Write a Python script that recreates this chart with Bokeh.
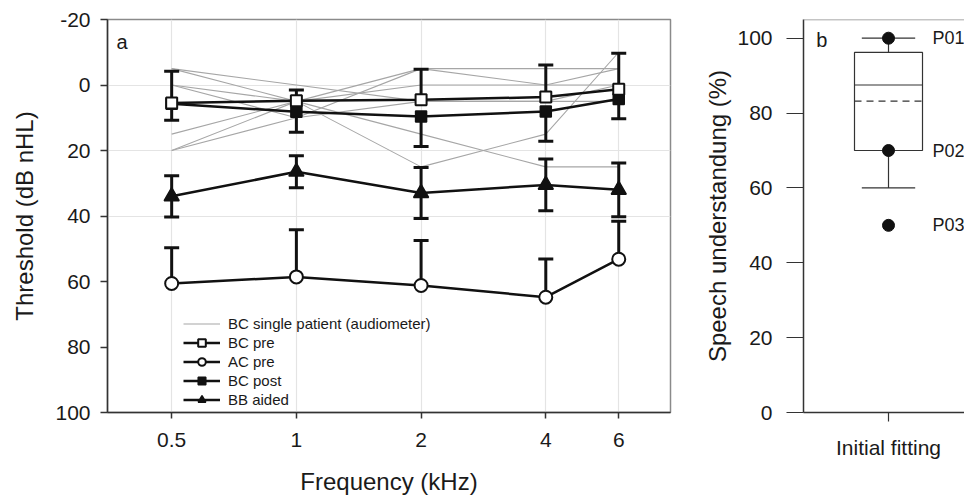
from bokeh.plotting import figure
from bokeh.models import Range1d, FixedTicker, Legend, LegendItem, Span, Label
from bokeh.layouts import row
from bokeh.embed import file_html
from bokeh.resources import INLINE
from bokeh.core.properties import value

FONT = "Liberation Sans"

# ---------------- data: panel a ----------------
freqs = [0.5, 1, 2, 4, 6]
freq_labels = ["0.5", "1", "2", "4", "6"]

bc_pre = [5.5, 4.8, 4.5, 3.7, 1.3]
bc_pre_sd = [9.7, 3.3, 9.3, 9.8, 11.0]
bc_post = [5.7, 8.2, 9.6, 8.1, 4.3]
bc_post_sd = [5.1, 6.2, 9.2, 9.1, 6.0]
bb_aided = [34.0, 26.5, 33.0, 30.5, 32.0]
bb_aided_sd = [6.3, 4.9, 7.8, 7.9, 8.2]
ac_pre = [60.6, 58.6, 61.2, 64.8, 53.2]
ac_pre_sd = [10.9, 14.4, 13.7, 11.7, 11.6]

patient_1 = [-5, 5, 15, 25, 25]
patient_2 = [-5, 0, 5, 5, 5]
patient_3 = [0, 5, 25, 15, -10]
patient_4 = [0, 10, 5, 5, 0]
patient_5 = [15, 5, -5, -5, -5]
patient_6 = [20, 10, -5, 0, 0]
patient_7 = [20, 5, 0, 0, -5]
patients = [patient_1, patient_2, patient_3, patient_4, patient_5, patient_6, patient_7]

y_ticks_a = [-20, 0, 20, 40, 60, 80, 100]
y_tick_labels_a = ["-20", "0", "20", "40", "60", "80", "100"]

# ---------------- data: panel b ----------------
box_category = "Initial fitting"
box_q1 = 70.0
box_median = 87.5
box_q3 = 96.2
box_mean = 83.2
whisker_low = 60.0
whisker_high = 100.0
point_values = [100, 70, 50]
point_labels = ["P01", "P02", "P03"]
y_ticks_b = [0, 20, 40, 60, 80, 100]

DARK = "#1a1a1a"
BLK = "#111111"

# ================= panel a =================
p1 = figure(width=700, height=497, x_axis_type="log",
            x_range=Range1d(0.35, 8.0), y_range=Range1d(100, -20),
            output_backend="svg", toolbar_location=None,
            min_border_left=107, min_border_right=30,
            min_border_top=19, min_border_bottom=85)
p1.background_fill_color = "white"
p1.outline_line_color = "#8a8a8a"
p1.outline_line_width = 1.5

p1.xgrid.ticker = FixedTicker(ticks=freqs)
p1.ygrid.ticker = FixedTicker(ticks=[0, 20, 40])
p1.xgrid.grid_line_color = "#e4e4e4"
p1.ygrid.grid_line_color = "#e4e4e4"
p1.xgrid.grid_line_width = 1.2
p1.ygrid.grid_line_width = 1.2

grey_renderers = []
for pat in patients:
    r = p1.line(freqs, pat, line_color="#a6a6a6", line_width=1.1)
    grey_renderers.append(r)

def err(mean, sd, sign):
    return [m + sign * s for m, s in zip(mean, sd)]

series_err = [
    (bc_pre, [err(bc_pre, bc_pre_sd, -1)]),
    (bc_post, [err(bc_post, bc_post_sd, +1)]),
    (bb_aided, [err(bb_aided, bb_aided_sd, -1), err(bb_aided, bb_aided_sd, +1)]),
    (ac_pre, [err(ac_pre, ac_pre_sd, -1)]),
]
for mean, caps in series_err:
    for cap in caps:
        p1.segment(x0=freqs, y0=mean, x1=freqs, y1=cap, line_color=BLK, line_width=3)
        p1.scatter(freqs, cap, marker="dash", size=15, line_color=BLK, line_width=3)

l_pre = p1.line(freqs, bc_pre, line_color=BLK, line_width=2.5)
l_ac = p1.line(freqs, ac_pre, line_color=BLK, line_width=2.5)
l_post = p1.line(freqs, bc_post, line_color=BLK, line_width=2.5)
l_bb = p1.line(freqs, bb_aided, line_color=BLK, line_width=2.5)

m_ac = p1.scatter(freqs, ac_pre, marker="circle", size=13, fill_color="white",
                  line_color=BLK, line_width=2)
m_bb = p1.scatter(freqs, bb_aided, marker="triangle", size=15, fill_color=BLK,
                  line_color=BLK, line_width=1.5)
m_post = p1.scatter(freqs, bc_post, marker="square", size=11, fill_color=BLK,
                    line_color=BLK, line_width=1.5)
m_pre = p1.scatter(freqs, bc_pre, marker="square", size=11, fill_color="white",
                   line_color=BLK, line_width=2)

p1.xaxis.ticker = FixedTicker(ticks=freqs)
p1.xaxis.major_label_overrides = {f: lab for f, lab in zip(freqs, freq_labels)}
p1.yaxis.ticker = FixedTicker(ticks=y_ticks_a)
p1.yaxis.major_label_overrides = {t: lab for t, lab in zip(y_ticks_a, y_tick_labels_a)}
p1.xaxis.axis_label = "Frequency (kHz)"
p1.yaxis.axis_label = "Threshold (dB nHL)"

for ax in (p1.xaxis[0], p1.yaxis[0]):
    ax.axis_line_color = "#333333"
    ax.axis_line_width = 1.5
    ax.major_tick_line_color = "#333333"
    ax.major_tick_line_width = 1.5
    ax.major_tick_in = 0
    ax.minor_tick_line_color = None
    ax.major_label_text_font = FONT
    ax.major_label_text_font_size = "21px"
    ax.major_label_text_color = DARK
    ax.axis_label_text_font = FONT
    ax.axis_label_text_font_size = "24px"
    ax.axis_label_text_font_style = "normal"
    ax.axis_label_text_color = DARK
p1.yaxis.major_tick_out = 7
p1.yaxis.major_label_standoff = 10
p1.yaxis.axis_label_standoff = 14
p1.xaxis.major_tick_out = 6
p1.xaxis.major_label_standoff = 14
p1.xaxis.axis_label_standoff = 18

p1.add_layout(Label(x=0.368, y=-13, text="a", text_font=FONT, text_font_size="20px",
                    text_baseline="middle", text_align="left", text_color=DARK))

legend = Legend(items=[
    LegendItem(label="BC single patient (audiometer)", renderers=[grey_renderers[0]]),
    LegendItem(label="BC pre", renderers=[l_pre, m_pre]),
    LegendItem(label="AC pre", renderers=[l_ac, m_ac]),
    LegendItem(label="BC post", renderers=[l_post, m_post]),
    LegendItem(label="BB aided", renderers=[l_bb, m_bb]),
], location=(76, 3))
legend.background_fill_alpha = 0
legend.border_line_color = None
legend.padding = 0
legend.margin = 0
legend.spacing = 0
legend.glyph_width = 37
legend.glyph_height = 19
legend.label_height = 19
legend.label_standoff = 8
legend.label_text_font = FONT
legend.label_text_font_size = "15px"
legend.label_text_color = DARK
p1.add_layout(legend)

# ================= panel b =================
p2 = figure(width=264, height=497, x_range=Range1d(0, 1.894), y_range=Range1d(0, 105),
            output_backend="svg", toolbar_location=None,
            min_border_left=103, min_border_right=0,
            min_border_top=19, min_border_bottom=84)
p2.outline_line_color = None
p2.grid.visible = False
p2.add_layout(Span(location=105, dimension="width", line_color="#8a8a8a", line_width=1.5))

BOX = "#333333"
p2.quad(left=[0.6], right=[1.4], bottom=[box_q1], top=[box_q3],
        fill_color=None, line_color=BOX, line_width=1.2)
p2.segment(x0=[0.6], y0=[box_median], x1=[1.4], y1=[box_median], line_color=BOX, line_width=1.2)
p2.segment(x0=[0.6], y0=[box_mean], x1=[1.4], y1=[box_mean], line_color=BOX,
           line_width=1.2, line_dash="7 5")
p2.segment(x0=[1, 1], y0=[box_q3, box_q1], x1=[1, 1], y1=[whisker_high, whisker_low],
           line_color=BOX, line_width=1.2)
p2.segment(x0=[0.686, 0.686], y0=[whisker_high, whisker_low], x1=[1.314, 1.314],
           y1=[whisker_high, whisker_low], line_color=BOX, line_width=1.2)
p2.scatter([1] * len(point_values), point_values, marker="circle", size=12,
           fill_color=BLK, line_color=BLK)
p2.text(x=[1.518] * len(point_values), y=point_values, text=point_labels,
        text_font=value(FONT), text_font_size="18px", text_baseline="middle",
        text_align="left", text_color=DARK)
p2.add_layout(Label(x=0.15, y=99.5, text="b", text_font=FONT, text_font_size="20px",
                    text_baseline="middle", text_align="left", text_color=DARK))

p2.xaxis.ticker = FixedTicker(ticks=[1])
p2.xaxis.major_label_overrides = {1: box_category}
p2.yaxis.ticker = FixedTicker(ticks=y_ticks_b)
p2.yaxis.axis_label = "Speech understandung (%)"
for ax in (p2.xaxis[0], p2.yaxis[0]):
    ax.axis_line_color = "#333333"
    ax.axis_line_width = 1.5
    ax.major_tick_line_color = "#333333"
    ax.major_tick_line_width = 1.2
    ax.major_tick_in = 0
    ax.minor_tick_line_color = None
    ax.major_label_text_font = FONT
    ax.major_label_text_font_size = "21px"
    ax.major_label_text_color = DARK
    ax.axis_label_text_font = FONT
    ax.axis_label_text_font_size = "24px"
    ax.axis_label_text_font_style = "normal"
    ax.axis_label_text_color = DARK
p2.yaxis.major_tick_out = 17
p2.yaxis.major_label_standoff = 14
p2.yaxis.axis_label_standoff = 3
p2.xaxis.major_tick_out = 9
p2.xaxis.major_label_standoff = 14

layout = row(p1, p2)
open("out.html", "w").write(file_html(layout, INLINE))
